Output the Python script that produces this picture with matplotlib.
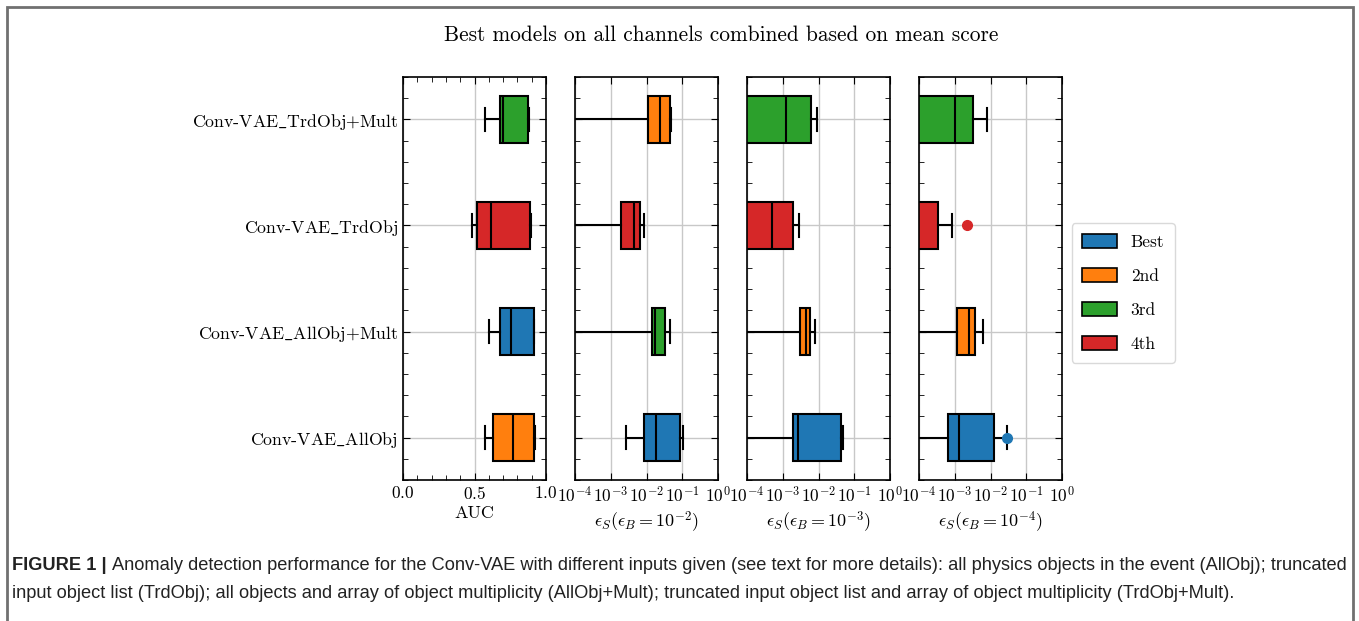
import matplotlib
matplotlib.use("Agg")
from matplotlib import pyplot as plt
from matplotlib.patches import Patch, Rectangle

plt.rcParams['font.family'] = 'serif'
plt.rcParams['font.serif'] = ['cmr10']
plt.rcParams['mathtext.fontset'] = 'cm'
plt.rcParams['axes.formatter.use_mathtext'] = True

# rows from bottom to top
models = ['Conv-VAE_AllObj', 'Conv-VAE_AllObj+Mult', 'Conv-VAE_TrdObj', 'Conv-VAE_TrdObj+Mult']
rank_names = ['Best', '2nd', '3rd', '4th']
rank_colors = ['#1f77b4', '#ff7f0e', '#2ca02c', '#d62728']

# rank of each model (bottom to top) in each panel
ranks_auc = ['2nd', 'Best', '4th', '3rd']
ranks_1e2 = ['Best', '3rd', '4th', '2nd']
ranks_1e3 = ['Best', '2nd', '4th', '3rd']
ranks_1e4 = ['Best', '2nd', '4th', '3rd']

# (whislo, q1, med, q3, whishi) per model, per panel
auc = [(0.570, 0.631, 0.768, 0.916, 0.920),
       (0.603, 0.678, 0.755, 0.914, 0.918),
       (0.481, 0.516, 0.612, 0.890, 0.892),
       (0.573, 0.680, 0.697, 0.871, 0.878)]
eff_1e2 = [(0.0027, 0.0085, 0.018, 0.087, 0.102),
           (1e-6, 0.0145, 0.0168, 0.0333, 0.046),
           (1e-6, 0.0019, 0.0044, 0.0066, 0.0086),
           (1e-6, 0.0112, 0.024, 0.044, 0.050)]
eff_1e3 = [(1e-6, 0.0019, 0.00266, 0.042, 0.048),
           (1e-6, 0.0031, 0.0046, 0.0059, 0.0081),
           (1e-6, 1e-6, 0.00051, 0.0019, 0.0028),
           (1e-6, 1e-6, 0.00125, 0.0061, 0.009)]
eff_1e4 = [(1e-6, 0.00066, 0.0013, 0.0122, 0.0287),
           (1e-6, 0.00117, 0.0025, 0.0038, 0.006),
           (1e-6, 1e-6, 1e-5, 0.00035, 0.00082),
           (1e-6, 1e-6, 0.001, 0.0032, 0.0078)]
fliers_1e4 = [[0.029], [], [0.00215], []]

panels = [auc, eff_1e2, eff_1e3, eff_1e4]
panel_ranks = [ranks_auc, ranks_1e2, ranks_1e3, ranks_1e4]
panel_fliers = [[[], [], [], []], [[], [], [], []], [[], [], [], []], fliers_1e4]
xlabels = ['AUC', r'$\epsilon_S(\epsilon_B=10^{-2})$',
           r'$\epsilon_S(\epsilon_B=10^{-3})$', r'$\epsilon_S(\epsilon_B=10^{-4})$']

W, H = 1359, 621
fig = plt.figure(figsize=(W / 100, H / 100), dpi=100)

lefts = [403, 575, 747, 919]
positions = [1, 2, 3, 4]

for i, (data, fl, rk) in enumerate(zip(panels, panel_fliers, panel_ranks)):
    ax = fig.add_axes([lefts[i] / W, 1 - 480 / H, 143 / W, 403 / H])
    stats = []
    for (lo, q1, med, q3, hi), f in zip(data, fl):
        stats.append(dict(whislo=lo, q1=q1, med=med, q3=q3, whishi=hi, fliers=f))
    bp = ax.bxp(stats, positions=positions, vert=False, widths=0.45,
                patch_artist=True, capwidths=0.22,
                boxprops=dict(edgecolor='black', linewidth=1.5),
                medianprops=dict(color='black', linewidth=1.5),
                whiskerprops=dict(color='black', linewidth=1.5),
                capprops=dict(color='black', linewidth=1.5))
    for j, box in enumerate(bp['boxes']):
        c = rank_colors[rank_names.index(rk[j])]
        box.set_facecolor(c)
        bp['fliers'][j].set(marker='o', markerfacecolor=c, markeredgecolor=c,
                            markersize=7)
    if i == 0:
        ax.set_xlim(0, 1)
        ax.set_xticks([0, 0.5, 1.0])
        ax.set_xticks([k / 10 for k in range(11)], minor=True)
        ax.set_yticks(positions)
        ax.set_yticklabels([m.replace('_', r'$\_$') for m in models])
    else:
        ax.set_xscale('log')
        ax.set_xlim(1e-4, 1)
        ax.set_xticks([1e-4, 1e-3, 1e-2, 1e-1, 1])
        ax.xaxis.set_minor_locator(matplotlib.ticker.NullLocator())
        ax.set_yticks(positions)
        ax.set_yticklabels([])
    ax.set_yticks([0.6 + 0.2 * k for k in range(20)], minor=True)
    ax.set_ylim(0.6, 4.4)
    ax.grid(True, which='major', color='#c8c8c8', linewidth=1)
    ax.set_axisbelow(True)
    ax.tick_params(which='both', direction='in', top=True, right=True,
                   labelsize=12.5)
    ax.tick_params(which='major', length=5)
    ax.tick_params(which='minor', length=3.5)
    ax.tick_params(axis='y', labelsize=12.8)
    for s in ax.spines.values():
        s.set_linewidth(1.2)
    ax.set_xlabel(xlabels[i], fontsize=13, labelpad=3)

fig.text(721 / W, 1 - 35 / H, 'Best models on all channels combined based on mean score',
         ha='center', va='center', fontsize=15.4)

handles = [Patch(facecolor=c, edgecolor='black', linewidth=1.2) for c in rank_colors]
fig.legend(handles, rank_names, loc='center left',
           bbox_to_anchor=(1063 / W, 1 - 293 / H), fontsize=12.5,
           handlelength=2.0, handleheight=0.85, labelspacing=1.05,
           handletextpad=0.8, frameon=True, edgecolor='#d0d0d0',
           fancybox=True, borderpad=0.6)

# caption
renderer = fig.canvas.get_renderer()
cap_font = ['Liberation Sans', 'DejaVu Sans']
cap_size = 13.15
t1 = fig.text(12 / W, 1 - 566 / H, 'FIGURE 1 |', family=cap_font, fontweight='bold',
              fontsize=cap_size, va='center', ha='left', color='#222222')
bb = t1.get_window_extent(renderer)
fig.text((bb.x1 + 5) / W, 1 - 566 / H,
         'Anomaly detection performance for the Conv-VAE with different inputs given '
         '(see text for more details): all physics objects in the event (AllObj); truncated',
         family=cap_font, fontsize=cap_size, va='center', ha='left', color='#222222')
fig.text(12 / W, 1 - 594 / H,
         'input object list (TrdObj); all objects and array of object multiplicity (AllObj+Mult); '
         'truncated input object list and array of object multiplicity (TrdObj+Mult).',
         family=cap_font, fontsize=cap_size, va='center', ha='left', color='#222222')

fig.patches.append(Rectangle((7 / W, -0.1), (1353 - 7) / W, 1.1 - 6.5 / H,
                             transform=fig.transFigure, fill=False,
                             edgecolor='#707070', linewidth=2))

fig.savefig('out.png', dpi=100)
